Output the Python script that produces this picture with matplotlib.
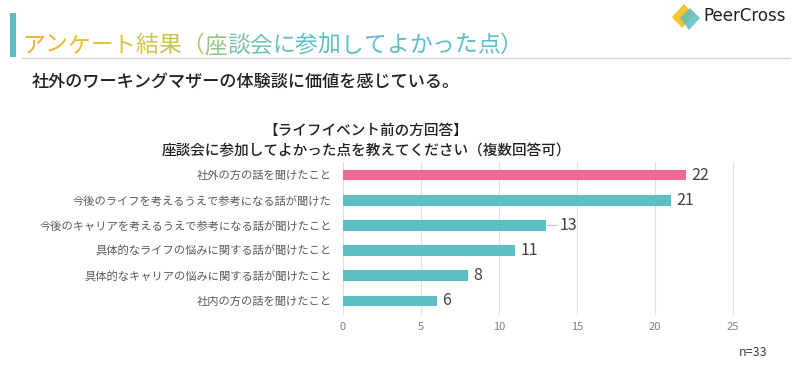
import numpy as np
import matplotlib
matplotlib.use("Agg")
import matplotlib.pyplot as plt
from matplotlib.patches import Rectangle, Polygon
from matplotlib.colors import to_rgb

plt.rcParams['font.family'] = ['Noto Sans CJK JP', 'DejaVu Sans']

# データ
categories = [
    "社外の方の話を聞けたこと",
    "今後のライフを考えるうえで参考になる話が聞けた",
    "今後のキャリアを考えるうえで参考になる話が聞けたこと",
    "具体的なライフの悩みに関する話が聞けたこと",
    "具体的なキャリアの悩みに関する話が聞けたこと",
    "社内の方の話を聞けたこと",
]
counts = [22, 21, 13, 11, 8, 6]
xticks = [0, 5, 10, 15, 20, 25]

page_title = "アンケート結果（座談会に参加してよかった点）"
subtitle = "社外のワーキングマザーの体験談に価値を感じている。"
chart_title = "【ライフイベント前の方回答】\n座談会に参加してよかった点を教えてください（複数回答可）"
n_note = "n=33"

TEAL = "#5BBFC5"
PINK = "#F0679A"
GRAY_TXT = "#595959"

fig = plt.figure(figsize=(8, 3.8), dpi=100)
fig.patch.set_facecolor("white")

# 棒グラフ
ax = fig.add_axes([343 / 800, 66.5 / 380, 390 / 800, 151 / 380])
y = np.arange(len(categories))
colors = [PINK] + [TEAL] * (len(categories) - 1)
ax.barh(y, counts, height=0.42, color=colors, zorder=3)
ax.set_ylim(len(categories) - 0.5, -0.5)
ax.set_xlim(0, 25)
ax.set_xticks(xticks)
ax.set_yticks(y)
ax.set_yticklabels(categories, fontsize=8.1, color=GRAY_TXT)
ax.tick_params(axis="x", length=0, pad=6, labelsize=8, labelcolor="#7F7F7F")
ax.tick_params(axis="y", length=0, pad=8)
ax.grid(axis="x", color="#E0E0E0", lw=0.8, zorder=0)
for gl in ax.get_xgridlines():
    gl.set_clip_on(False)
for s in ax.spines.values():
    s.set_visible(False)

for yi, v in zip(y, counts):
    if v == 13:
        ax.annotate(str(v), xy=(v, yi), xytext=(10, 0), textcoords="offset points",
                    va="center", ha="left", fontsize=11.5, color="#404040",
                    arrowprops=dict(arrowstyle="-", color="#BFBFBF", lw=0.8,
                                    shrinkA=0, shrinkB=1))
    else:
        ax.annotate(str(v), xy=(v, yi), xytext=(4, 0), textcoords="offset points",
                    va="center", ha="left", fontsize=11.5, color="#404040")

# 見出しの飾り
fig.add_artist(Rectangle((10 / 800, 1 - 57 / 380), 6 / 800, 44 / 380,
                         transform=fig.transFigure, color=TEAL, lw=0))
fig.add_artist(plt.Line2D([22 / 800, 790 / 800], [1 - 58 / 380, 1 - 58 / 380],
                          transform=fig.transFigure, color="#D3D3D3", lw=1))

# グラデーションのタイトル（1文字ずつ）
stops = [to_rgb("#F2B02C"), to_rgb("#E8C232"), to_rgb("#C4C648"), to_rgb("#7FC3A8"), to_rgb(TEAL)]
stop_pos = [0, 3, 6, 9, 12]
last = None
for i, ch in enumerate(page_title):
    k = min(i, stop_pos[-1])
    col = tuple(np.interp(k, stop_pos, [c[j] for c in stops]) for j in range(3))
    if last is None:
        last = fig.text(22 / 800, 1 - 57 / 380, ch, fontsize=16.4, color=col,
                        ha="left", va="bottom")
    else:
        last = ax.annotate(ch, xy=(1, 0), xycoords=last, fontsize=16.4, color=col,
                           ha="left", va="bottom", annotation_clip=False)

fig.text(32 / 800, 1 - 82 / 380, subtitle, fontsize=12.3, color="#222222",
         ha="left", va="center", weight="medium")

# ロゴ
fig.add_artist(Polygon([[672 / 800, 1 - 17 / 380], [684 / 800, 1 - 4 / 380],
                        [694 / 800, 1 - 15 / 380], [682 / 800, 1 - 28 / 380]],
                       closed=True, transform=fig.transFigure, color="#F5C431", lw=0))
fig.add_artist(Polygon([[680 / 800, 1 - 18 / 380], [690 / 800, 1 - 8 / 380],
                        [700 / 800, 1 - 18 / 380], [689 / 800, 1 - 30 / 380]],
                       closed=True, transform=fig.transFigure, color=TEAL, lw=0, alpha=0.85))
fig.text(703 / 800, 1 - 16 / 380, "PeerCross", fontsize=12, color="#222222",
         ha="left", va="center", family="DejaVu Sans")

fig.text(366 / 800, 1 - 141 / 380, chart_title, fontsize=10.5, color="#222222",
         ha="center", va="center", weight="medium", linespacing=1.5)
fig.text(768 / 800, 1 - 352 / 380, n_note, fontsize=9, color="#404040",
         ha="right", va="center")

fig.savefig("out.png", dpi=100)
